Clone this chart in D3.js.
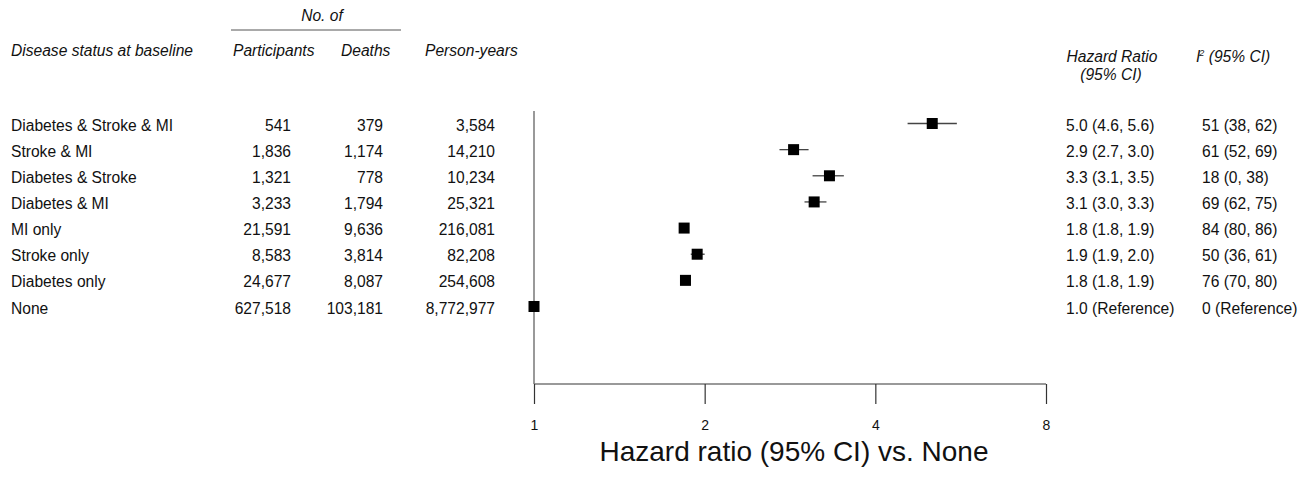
<!DOCTYPE html>
<html>
<head>
<meta charset="utf-8">
<script src="https://cdn.jsdelivr.net/npm/d3@7"></script>
<style>
  html, body { margin: 0; padding: 0; background: #fff; }
  svg text { font-family: "Liberation Sans", Arial, Helvetica, sans-serif; fill: #111; }
</style>
</head>
<body>
<svg id="chart" width="1310" height="483"></svg>
<script>
// Mortality by disease status at baseline
const categories = ["Diabetes & Stroke & MI", "Stroke & MI", "Diabetes & Stroke", "Diabetes & MI",
                    "MI only", "Stroke only", "Diabetes only", "None"];
const participants = [541, 1836, 1321, 3233, 21591, 8583, 24677, 627518];
const deaths = [379, 1174, 778, 1794, 9636, 3814, 8087, 103181];
const personYears = [3584, 14210, 10234, 25321, 216081, 82208, 254608, 8772977];
const hr = [5.0, 2.9, 3.3, 3.1, 1.8, 1.9, 1.8, 1.0];
const hrLow = [4.6, 2.7, 3.1, 3.0, 1.8, 1.9, 1.8, null];
const hrHigh = [5.6, 3.0, 3.5, 3.3, 1.9, 2.0, 1.9, null];
const i2 = [51, 61, 18, 69, 84, 50, 76, 0];
const i2Low = [38, 52, 0, 62, 80, 36, 70, null];
const i2High = [62, 69, 38, 75, 86, 61, 80, null];
const xTicks = [1, 2, 4, 8];

// marker positions use unrounded estimates between the printed bounds
const hrPlot = [5.04, 2.87, 3.32, 3.12, 1.84, 1.94, 1.85, 1.0];
const lowPlot = [4.56, 2.71, 3.1, 3.0, 1.82, 1.89, 1.83, null];
const highPlot = [5.57, 3.05, 3.52, 3.28, 1.86, 2.0, 1.88, null];

const svg = d3.select("#chart");
const fmt = d3.format(",");
const f1 = d3.format(".1f");
const FS = 15.6;

const x = d3.scaleLog().base(2).domain([1, 8]).range([534, 1046]);
const y = d3.scalePoint().domain(categories).range([124.5, 307.5]);

// column headers
svg.append("text").attr("x", 322).attr("y", 21).attr("text-anchor", "middle")
  .attr("font-size", FS).attr("font-style", "italic").text("No. of");
svg.append("line").attr("x1", 231).attr("x2", 401).attr("y1", 30).attr("y2", 30)
  .attr("stroke", "#555").attr("stroke-width", 1);

const headers = [
  { t: "Disease status at baseline", x: 11 },
  { t: "Participants", x: 233 },
  { t: "Deaths", x: 341 },
  { t: "Person-years", x: 425 }
];
svg.selectAll("text.hdr").data(headers).join("text").attr("class", "hdr")
  .attr("x", d => d.x).attr("y", 55.5)
  .attr("font-size", FS).attr("font-style", "italic").text(d => d.t);

svg.append("text").attr("x", 1112).attr("y", 62).attr("text-anchor", "middle")
  .attr("font-size", FS).attr("font-style", "italic").text("Hazard Ratio");
svg.append("text").attr("x", 1111).attr("y", 80).attr("text-anchor", "middle")
  .attr("font-size", FS).attr("font-style", "italic").text("(95% CI)");
const i2h = svg.append("text").attr("x", 1196).attr("y", 62)
  .attr("font-size", FS).attr("font-style", "italic");
i2h.append("tspan").text("I");
i2h.append("tspan").attr("font-size", 9).attr("dy", -6).attr("dx", -1).text("2");
i2h.append("tspan").attr("dy", 6).text(" (95% CI)");

// table rows
const rows = svg.append("g").attr("font-size", FS);
categories.forEach((c, i) => {
  const yy = y(c) + 6;
  rows.append("text").attr("x", 11).attr("y", yy).text(c);
  rows.append("text").attr("x", 291).attr("y", yy).attr("text-anchor", "end").text(fmt(participants[i]));
  rows.append("text").attr("x", 383).attr("y", yy).attr("text-anchor", "end").text(fmt(deaths[i]));
  rows.append("text").attr("x", 495).attr("y", yy).attr("text-anchor", "end").text(fmt(personYears[i]));
  const hrTxt = hrLow[i] == null ? f1(hr[i]) + " (Reference)"
    : f1(hr[i]) + " (" + f1(hrLow[i]) + ", " + f1(hrHigh[i]) + ")";
  const i2Txt = i2Low[i] == null ? i2[i] + " (Reference)"
    : i2[i] + " (" + i2Low[i] + ", " + i2High[i] + ")";
  rows.append("text").attr("x", 1066).attr("y", yy).text(hrTxt);
  rows.append("text").attr("x", 1202).attr("y", yy).text(i2Txt);
});

// reference line at HR = 1
svg.append("line").attr("x1", x(1)).attr("x2", x(1)).attr("y1", 111).attr("y2", 384)
  .attr("stroke", "#777").attr("stroke-width", 1.5);

// confidence intervals and point estimates
const plot = svg.append("g");
categories.forEach((c, i) => {
  const yy = y(c) - 1;
  if (lowPlot[i] != null) {
    plot.append("line").attr("x1", x(lowPlot[i])).attr("x2", x(highPlot[i]))
      .attr("y1", yy).attr("y2", yy).attr("stroke", "#444").attr("stroke-width", 1.3);
  }
  plot.append("rect").attr("x", x(hrPlot[i]) - 5.5).attr("y", yy - 5.5)
    .attr("width", 11).attr("height", 11).attr("fill", "#000");
});

// log2 x axis
const axis = d3.axisBottom(x).tickValues(xTicks).tickFormat(d3.format("d"))
  .tickSize(20).tickPadding(16);
const ax = svg.append("g").attr("transform", "translate(0,384)").call(axis);
ax.select(".domain").attr("stroke", "#777").attr("stroke-width", 1.5)
  .attr("d", `M${x(1)},0H${x(8)}`);
ax.selectAll(".tick line").attr("stroke", "#333").attr("stroke-width", 1.2);
ax.selectAll(".tick text").attr("font-size", 14).attr("fill", "#111")
  .attr("font-family", "Liberation Sans, Arial, sans-serif");

svg.append("text").attr("x", 794).attr("y", 461).attr("text-anchor", "middle")
  .attr("font-size", 28).text("Hazard ratio (95% CI) vs. None");
</script>
</body>
</html>
